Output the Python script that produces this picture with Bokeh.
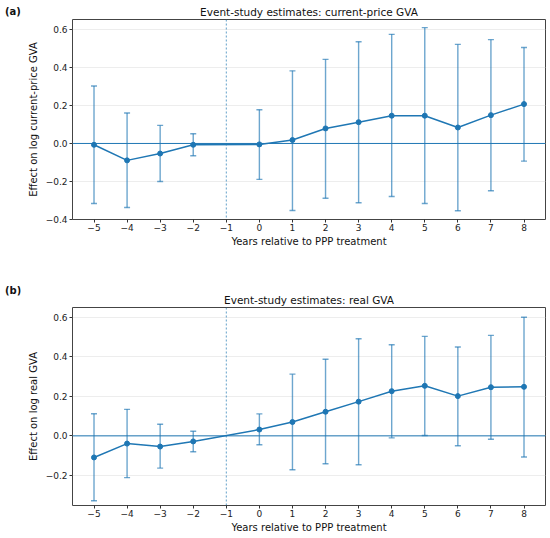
from bokeh.plotting import figure
from bokeh.layouts import column, row
from bokeh.models import (ColumnDataSource, Whisker, TeeHead, Span, Div,
                          FixedTicker, Range1d)
from bokeh.embed import file_html
from bokeh.resources import INLINE

# ---- data ----
years = [-5, -4, -3, -2, 0, 1, 2, 3, 4, 5, 6, 7, 8]
x_ticks = [-5, -4, -3, -2, -1, 0, 1, 2, 3, 4, 5, 6, 7, 8]

cur_est = [-0.007, -0.089, -0.053, -0.007, -0.005, 0.018, 0.079, 0.112, 0.146, 0.146, 0.084, 0.149, 0.207]
cur_lo = [-0.316, -0.337, -0.200, -0.065, -0.189, -0.353, -0.288, -0.312, -0.279, -0.316, -0.354, -0.249, -0.093]
cur_hi = [0.302, 0.160, 0.095, 0.051, 0.177, 0.382, 0.442, 0.535, 0.574, 0.609, 0.521, 0.546, 0.505]

real_est = [-0.109, -0.039, -0.054, -0.028, 0.032, 0.070, 0.122, 0.173, 0.226, 0.253, 0.201, 0.246, 0.248]
real_lo = [-0.328, -0.211, -0.163, -0.080, -0.045, -0.171, -0.141, -0.146, -0.010, 0.002, -0.050, -0.017, -0.107]
real_hi = [0.112, 0.134, 0.059, 0.023, 0.111, 0.312, 0.387, 0.491, 0.461, 0.503, 0.449, 0.508, 0.600]

cur_yticks = [-0.4, -0.2, 0.0, 0.2, 0.4, 0.6]
real_yticks = [-0.2, 0.0, 0.2, 0.4, 0.6]

BLUE = "#1f77b4"
FONT = "DejaVu Sans"
FW = 473
TAG_W = 20
BL, BR = 52, 3


def fmt(v, nd):
    s = f"{v:.{nd}f}"
    return s.replace("-", "\u2212")


def make_panel(tag, title, ylabel, est, lo, hi, yticks, yr, border_top, fh, border_bottom, tag_pad):
    p = figure(frame_width=FW, frame_height=fh,
               x_range=Range1d(-5.65, 8.65), y_range=Range1d(*yr),
               output_backend="svg", toolbar_location=None,
               min_border_left=BL, min_border_right=BR,
               min_border_top=border_top, min_border_bottom=border_bottom)
    p.title.text = title
    p.title.align = "center"
    p.title.text_font = FONT
    p.title.text_font_size = "10.5px"
    p.title.text_font_style = "normal"
    p.title.text_color = "#111111"
    p.title.standoff = 3

    p.outline_line_color = "#444444"
    p.outline_line_width = 1
    p.background_fill_color = "white"
    p.border_fill_color = "white"

    p.xgrid.visible = False
    p.ygrid.ticker = FixedTicker(ticks=yticks)
    p.ygrid.grid_line_color = "#e8e8e8"
    p.ygrid.grid_line_width = 0.8

    for ax in (p.xaxis[0], p.yaxis[0]):
        ax.axis_line_color = None
        ax.minor_tick_line_color = None
        ax.major_tick_in = 0
        ax.major_tick_out = 3
        ax.major_tick_line_color = "#333333"
        ax.major_label_text_font = FONT
        ax.major_label_text_font_size = "9px"
        ax.major_label_text_color = "#222222"
        ax.axis_label_text_font = FONT
        ax.axis_label_text_font_size = "10px"
        ax.axis_label_text_font_style = "normal"
        ax.axis_label_text_color = "#111111"
        ax.major_label_standoff = 2
        ax.axis_label_standoff = 4
    p.xaxis.major_label_standoff = 1
    p.xaxis.axis_label_standoff = 2

    p.xaxis.ticker = FixedTicker(ticks=x_ticks)
    p.xaxis.major_label_overrides = {t: fmt(t, 0) for t in x_ticks}
    p.xaxis.axis_label = "Years relative to PPP treatment"
    p.yaxis.ticker = FixedTicker(ticks=yticks)
    p.yaxis.major_label_overrides = {t: fmt(t, 1) for t in yticks}
    p.yaxis.axis_label = ylabel

    p.add_layout(Span(location=0, dimension="width", line_color=BLUE, line_width=1))
    p.add_layout(Span(location=-1, dimension="height", line_color=BLUE,
                      line_width=1, line_dash="2 2", line_alpha=0.7))

    src = ColumnDataSource(dict(x=years, y=est, lo=lo, hi=hi))
    w = Whisker(source=src, base="x", upper="hi", lower="lo", dimension="height",
                line_color=BLUE, line_alpha=0.65, line_width=1.4,
                upper_head=TeeHead(size=6, line_color=BLUE, line_alpha=0.65, line_width=1.4),
                lower_head=TeeHead(size=6, line_color=BLUE, line_alpha=0.65, line_width=1.4),
                level="glyph")
    p.add_layout(w)
    p.line("x", "y", source=src, line_color=BLUE, line_width=1.5)
    p.scatter("x", "y", source=src, size=5, fill_color=BLUE, line_color=BLUE)

    d = Div(text=(f'<div style="padding-top:{tag_pad}px;padding-left:5px;'
                  f'font-family:\'DejaVu Sans\';font-size:10px;font-weight:bold;'
                  f'line-height:12px;color:#111111;white-space:nowrap">{tag}</div>'),
            width=TAG_W, height=tag_pad + 14, margin=(0, 0, 0, 0))
    return row(d, p, spacing=0)


pa = make_panel("(a)", "Event-study estimates: current-price GVA",
                "Effect on log current-price GVA", cur_est, cur_lo, cur_hi,
                cur_yticks, (-0.4, 0.652), 19, 200, 33, 6)
pb = make_panel("(b)", "Event-study estimates: real GVA",
                "Effect on log real GVA", real_est, real_lo, real_hi,
                real_yticks, (-0.352, 0.649), 55, 198, 30, 33)

layout = column(pa, pb, spacing=0)
open("out.html", "w").write(file_html(layout, INLINE))
